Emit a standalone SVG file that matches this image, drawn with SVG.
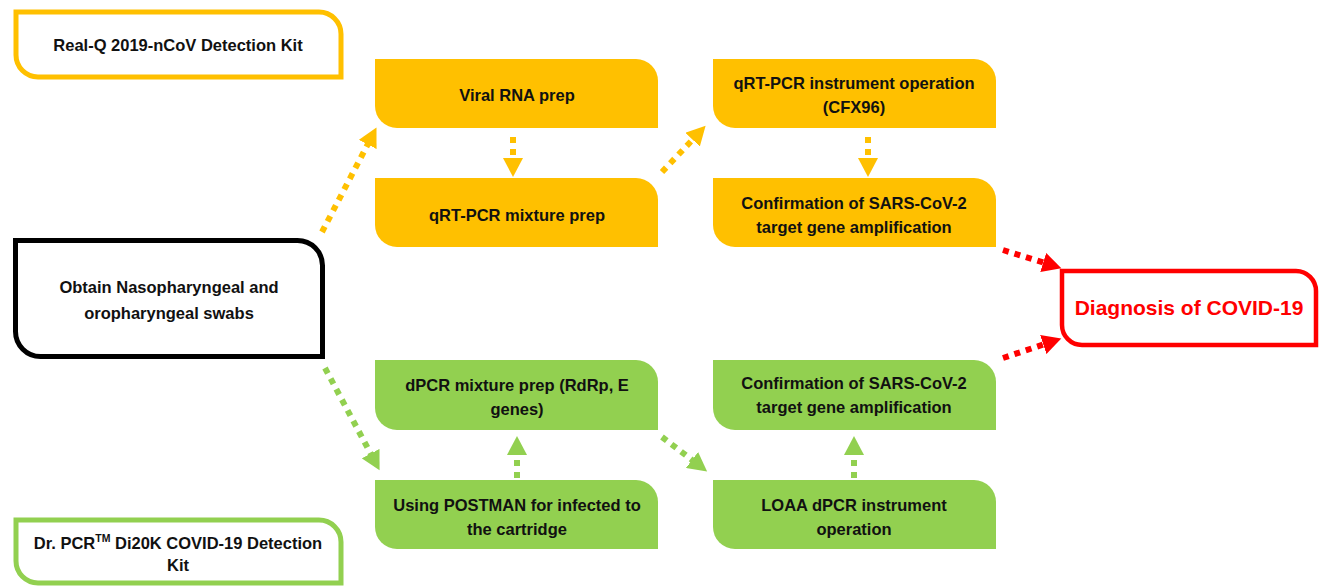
<svg xmlns="http://www.w3.org/2000/svg" width="1320" height="586" viewBox="0 0 1320 586">
<style>
text{font-family:"Liberation Sans",Arial,sans-serif;font-weight:bold;font-size:16.5px;fill:#111;text-anchor:middle}
.y{fill:#FFC000}
.g{fill:#92D050}
.ol{fill:#fff;stroke-width:5}
.c{fill:none;stroke-width:6;stroke-dasharray:6 6}
.cy{stroke:#FFC000}
.cg{stroke:#92D050}
.cr{stroke:#FF0000}
.diag{fill:#FF0000;font-size:21px}
</style>
<defs>
<marker id="ay" markerUnits="userSpaceOnUse" markerWidth="20" markerHeight="20" refX="5" refY="10" orient="auto" viewBox="0 0 20 20"><path d="M0,0 L19,10 L0,20 Z" fill="#FFC000"/></marker>
<marker id="ag" markerUnits="userSpaceOnUse" markerWidth="20" markerHeight="20" refX="5" refY="10" orient="auto" viewBox="0 0 20 20"><path d="M0,0 L19,10 L0,20 Z" fill="#92D050"/></marker>
<marker id="ar" markerUnits="userSpaceOnUse" markerWidth="20" markerHeight="20" refX="5" refY="10" orient="auto" viewBox="0 0 20 20"><path d="M0,0 L19,10 L0,20 Z" fill="#FF0000"/></marker>
</defs>

<g id="realq">
<path class="ol" stroke="#FFC000" d="M16,12 H319 A22,22 0 0 1 341,34 V77 H38 A22,22 0 0 1 16,55 Z"/>
<text x="178" y="51">Real-Q 2019-nCoV Detection Kit</text>
</g>

<g id="drpcr">
<path class="ol" stroke="#92D050" d="M16,520 H319 A22,22 0 0 1 341,542 V583 H38 A22,22 0 0 1 16,561 Z"/>
<text x="178" y="549">Dr. PCR<tspan font-size="10.5" dy="-7">TM</tspan><tspan dy="7"> Di20K COVID-19 Detection</tspan></text>
<text x="178" y="571">Kit</text>
</g>

<g id="obtain">
<path class="ol" stroke="#000" d="M15.5,240.5 H297.5 A25,25 0 0 1 322.5,265.5 V356.5 H40.5 A25,25 0 0 1 15.5,331.5 Z"/>
<text x="169" y="293">Obtain Nasopharyngeal and</text>
<text x="169" y="319">oropharyngeal swabs</text>
</g>

<g id="diagnosis">
<path fill="#fff" stroke="#FF0000" stroke-width="4.5" d="M1062,271 H1296 A20,20 0 0 1 1316,291 V345 H1082 A20,20 0 0 1 1062,325 Z"/>
<text class="diag" x="1189" y="315">Diagnosis of COVID-19</text>
</g>

<g id="viralrna">
<path class="y" d="M375,59 H636 A22,22 0 0 1 658,81 V128 H397 A22,22 0 0 1 375,106 Z"/>
<text x="517" y="101">Viral RNA prep</text>
</g>

<g id="qrtmix">
<path class="y" d="M375,178 H636 A22,22 0 0 1 658,200 V247 H397 A22,22 0 0 1 375,225 Z"/>
<text x="517" y="221">qRT-PCR mixture prep</text>
</g>

<g id="qrtinst">
<path class="y" d="M713,59 H974 A22,22 0 0 1 996,81 V128 H735 A22,22 0 0 1 713,106 Z"/>
<text x="854" y="89">qRT-PCR instrument operation</text>
<text x="854" y="113">(CFX96)</text>
</g>

<g id="confirmy">
<path class="y" d="M713,178 H974 A22,22 0 0 1 996,200 V247 H735 A22,22 0 0 1 713,225 Z"/>
<text x="854" y="209">Confirmation of SARS-CoV-2</text>
<text x="854" y="233">target gene amplification</text>
</g>

<g id="dpcrmix">
<path class="g" d="M375,360 H636 A22,22 0 0 1 658,382 V430 H397 A22,22 0 0 1 375,408 Z"/>
<text x="517" y="391">dPCR mixture prep (RdRp, E</text>
<text x="517" y="415">genes)</text>
</g>

<g id="postman">
<path class="g" d="M375,480 H636 A22,22 0 0 1 658,502 V549 H397 A22,22 0 0 1 375,527 Z"/>
<text x="517" y="511">Using POSTMAN for infected to</text>
<text x="517" y="535">the cartridge</text>
</g>

<g id="confirmg">
<path class="g" d="M713,360 H974 A22,22 0 0 1 996,382 V430 H735 A22,22 0 0 1 713,408 Z"/>
<text x="854" y="389">Confirmation of SARS-CoV-2</text>
<text x="854" y="413">target gene amplification</text>
</g>

<g id="loaa">
<path class="g" d="M713,480 H974 A22,22 0 0 1 996,502 V549 H735 A22,22 0 0 1 713,527 Z"/>
<text x="854" y="511">LOAA dPCR instrument</text>
<text x="854" y="535">operation</text>
</g>

<g id="connectors">
<line class="c cy" x1="322" y1="232" x2="370" y2="140" marker-end="url(#ay)"/>
<line class="c cy" x1="513" y1="137" x2="513" y2="163" marker-end="url(#ay)"/>
<line class="c cy" x1="662" y1="172" x2="696" y2="136" marker-end="url(#ay)"/>
<line class="c cy" x1="868" y1="137" x2="868" y2="163" marker-end="url(#ay)"/>
<line class="c cr" x1="1003" y1="250" x2="1048" y2="264" marker-end="url(#ar)"/>
<line class="c cr" x1="1003" y1="358" x2="1048" y2="343" marker-end="url(#ar)"/>
<line class="c cg" x1="325" y1="368" x2="373" y2="458" marker-end="url(#ag)"/>
<line class="c cg" x1="517" y1="478" x2="517" y2="450" marker-end="url(#ag)"/>
<line class="c cg" x1="662" y1="437" x2="696" y2="463" marker-end="url(#ag)"/>
<line class="c cg" x1="854" y1="478" x2="854" y2="450" marker-end="url(#ag)"/>
</g>
</svg>
